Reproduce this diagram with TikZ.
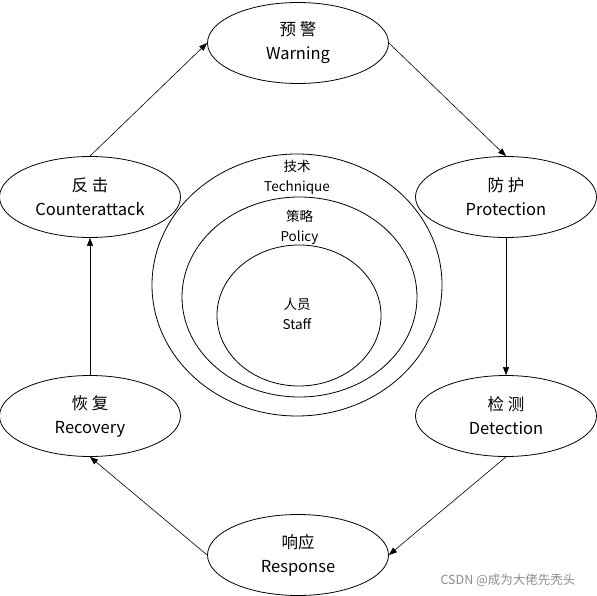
\documentclass[tikz,border=0pt]{standalone}
\usepackage{fontspec}
\setmainfont{Noto Sans CJK SC}
\usetikzlibrary{arrows.meta,shapes.geometric}

\begin{document}
\begin{tikzpicture}[x=1pt, y=-1pt,
  fase/.style={ellipse, draw, line width=0.8pt, align=center, inner sep=0pt,
               minimum width=181pt, minimum height=81pt,
               font=\fontsize{16.5}{24}\selectfont},
  capa/.style={ellipse, draw, line width=0.8pt, inner sep=0pt},
  etiq/.style={align=center, inner sep=0pt, font=\fontsize{13.5}{20}\selectfont},
  flecha/.style={-{Triangle[length=8pt,width=6pt]}, line width=0.6pt}]
\useasboundingbox (0,0) rectangle (597,596);
% ciclo exterior
\node[fase](wa) at (298,43){预 警\\Warning};
\node[fase](pr) at (506,197){防 护\\Protection};
\node[fase](de) at (506,416){检 测\\Detection};
\node[fase](re) at (298,555){响应\\Response};
\node[fase](rc) at (90,416){恢 复\\Recovery};
\node[fase](ca) at (90,197){反 击\\Counterattack};
\draw[flecha](ca.north)--(wa.west);
\draw[flecha](wa.east)--(pr.north);
\draw[flecha](pr.south)--(de.north);
\draw[flecha](de.south)--(re.east);
\draw[flecha](re.west)--(rc.south);
\draw[flecha](rc.north)--(ca.south);
% capas centrales
\node[capa, minimum width=290pt, minimum height=262pt](tec) at (297,285){};
\node[capa, minimum width=235pt, minimum height=200pt](pol) at (299.5,297){};
\node[capa, minimum width=164pt, minimum height=141pt](sta) at (299,315.5){};
\node[etiq](ltec) at (297,177){技术\\Technique};
\node[etiq](lpol) at (299.5,227){策略\\Policy};
\node[etiq](lsta) at (297,314){人员\\Staff};
\node[font=\fontsize{12.5}{14}\selectfont, text=black!45, inner sep=0pt](marca) at (508,580){CSDN @成为大佬先秃头};
\end{tikzpicture}
\end{document}
